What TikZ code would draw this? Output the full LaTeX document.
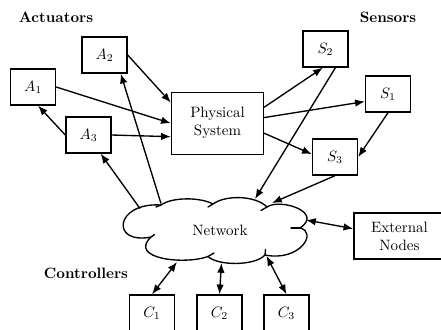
\documentclass[tikz,border=0pt]{standalone}
\usetikzlibrary{arrows.meta,calc}
\begin{document}
\begin{tikzpicture}[x=0.6667pt,y=-0.6667pt,
  box/.style={draw,line width=0.9pt,minimum width=30pt,minimum height=24pt,inner sep=0pt},
  arr/.style={line width=0.9pt,-{Latex[length=6.5pt,width=5pt]}},
  darr/.style={line width=0.9pt,{Latex[length=6.5pt,width=5pt]}-{Latex[length=6.5pt,width=5pt]}},
  cloudline/.style={line width=0.9pt,line join=round,line cap=round},
  lab/.style={font=\bfseries}]
\useasboundingbox (0,0) rectangle (441,329);
% labels
\node[lab] (tact) at (56,17) {Actuators};
\node[lab] (tsen) at (388,17) {Sensors};
\node[lab] (tcon) at (86,273) {Controllers};
% actuators
\node[box] (A1) at (33,87) {$A_1$};
\node[box] (A2) at (104.5,55) {$A_2$};
\node[box] (A3) at (88.5,135) {$A_3$};
% plant
\node[box,minimum width=61.3pt,minimum height=41.3pt,align=center] (PS) at (217.5,123.3) {Physical\\System};
% sensors
\node[box] (S2) at (325.5,49) {$S_2$};
\node[box] (S1) at (388,94) {$S_1$};
\node[box] (S3) at (335,157) {$S_3$};
% network cloud
\draw[cloudline] (151,237) .. controls (110,245) and (115,202) .. (161,205)
  .. controls (172,197) and (200,197) .. (213,204)
  .. controls (225,195) and (255,195) .. (267,207)
  .. controls (280,198) and (324,212) .. (300,228)
  .. controls (318,232) and (300,262) .. (265,255)
  .. controls (255,266) and (218,266) .. (208,256.5)
  .. controls (185,265) and (128,259) .. (151,237) -- cycle;
\draw[cloudline] (161,205) -- (156,207);
\draw[cloudline] (213,204) -- (208,207);
\draw[cloudline] (267,207) -- (261,210.5);
\draw[cloudline] (300,228) -- (291,228);
\draw[cloudline] (265,255) -- (265.5,249.5);
\draw[cloudline] (208,256.5) -- (214,253);
\draw[cloudline] (151,237) -- (154.5,234.5);
\node (net) at (220,230) {Network};
\node[box,minimum width=60.7pt,minimum height=30.7pt,align=center] (ext) at (399.5,236) {External\\Nodes};
% controllers
\node[box] (C1) at (152,313) {$C_1$};
\node[box] (C2) at (219.5,313) {$C_2$};
\node[box] (C3) at (286.5,313) {$C_3$};
% connectors
\draw[arr] (A1.east) -- (PS.west);
\draw[arr] (A2.east) -- (PS.156);
\draw[arr] (A3.east) -- (PS.196);
\draw[arr] (A3.west) -- (A1.-75);
\draw[arr] ($(net.center)+(-80,-21.5)$) -- (A3.-57);
\draw[arr] ($(net.center)+(-59,-26.5)$) -- (A2.-49);
\draw[arr] (PS.19) -- (S2.-98);
\draw[arr] (PS.7) -- (S1.198);
\draw[arr] (PS.-12) -- (S3.173);
\draw[arr] (S1.south) -- (S3.east);
\draw[arr] (S2.-62) -- ($(net.center)+(35,-31)$);
\draw[arr] (S3.south) -- ($(net.center)+(52,-27)$);
\draw[darr] ($(net.center)+(86,-10)$) -- (ext.171);
\draw[darr] ($(net.center)+(-43,32)$) -- (C1.north);
\draw[darr] ($(net.center)+(1.5,33)$) -- (C2.north);
\draw[darr] ($(net.center)+(46.5,26)$) -- (C3.north);
\end{tikzpicture}
\end{document}
